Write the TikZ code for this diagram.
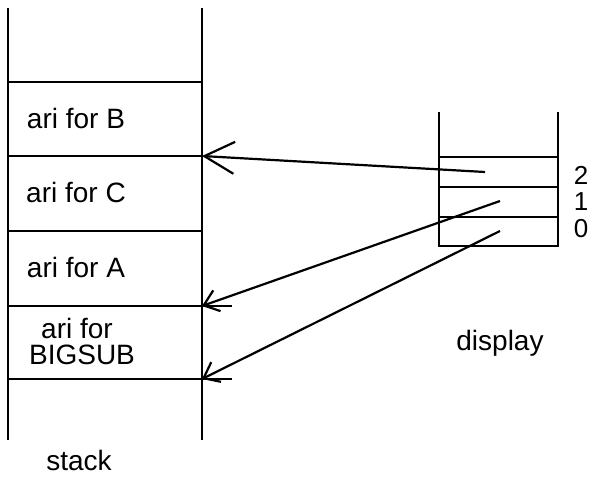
\documentclass[tikz,border=0pt]{standalone}
\usepackage{fontspec}
\setmainfont{Liberation Sans}
\usetikzlibrary{arrows.meta, positioning}

\begin{document}
\begin{tikzpicture}[x=1pt,y=-1pt,line width=2.2pt,
    lbl/.style={font=\fontsize{28}{26}\selectfont, inner sep=0pt, text height=20pt, text depth=0pt},
    lvl/.style={lbl, font=\fontsize{26}{26}\selectfont, text height=18pt},
    ptr/.style={-{Straight Barb[length=14pt,width=22pt]}},
    bigptr/.style={-{Straight Barb[length=30pt,width=32pt]}}]
\useasboundingbox (0,0) rectangle (595,481);

% stack frames
\draw (8,8) -- (8,440) (202,8) -- (202,440);
\draw (8,82) -- (202,82) (8,156) -- (202,156) (8,231) -- (202,231);
\draw (8,306) -- (232,306) (8,379) -- (232,379);
\coordinate (frmB) at (202,156);
\coordinate (frmA) at (202,306);
\coordinate (frmBig) at (202,379);
\node[lbl] (ariB) at (76,119) {ari for B};
\node[lbl] (ariC) at (76,193) {ari for C};
\node[lbl] (ariA) at (76,268) {ari for A};
\node[lbl] (ariBig) at (77,328) {ari for};
\node[lbl] (bigsub) at (82,354) {BIGSUB};
\node[lbl] (stk) at (79,460) {stack};

% display
\draw (439,112) -- (439,246) -- (558,246) -- (558,112);
\foreach \y in {157,187,217}
    \draw (439,\y) -- (558,\y);
\node[lvl] (lv2) at (581,176) {2};
\node[lvl] (lv1) at (581,202) {1};
\node[lvl] (lv0) at (581,229) {0};
\node[lbl] (disp) at (500,341) {display};
\coordinate (d2) at (485,172);
\coordinate (d1) at (500,201);
\coordinate (d0) at (500,231);

\draw[bigptr] (d2) -- (frmB);
\draw[ptr] (d1) -- (frmA);
\draw[ptr] (d0) -- (frmBig);
\end{tikzpicture}
\end{document}
